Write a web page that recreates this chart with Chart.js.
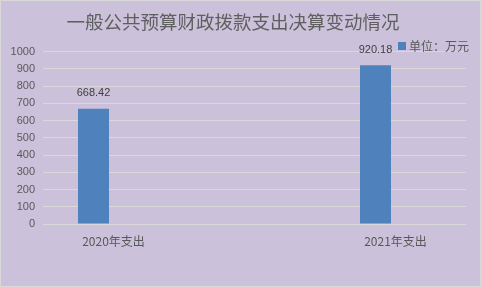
<!DOCTYPE html>
<html lang="zh">
<head>
  <meta charset="UTF-8" />
  <title>一般公共预算财政拨款支出决算变动情况</title>
  <script src="https://cdn.jsdelivr.net/npm/chart.js"></script>
  <style>
    html, body {
      margin: 0;
      padding: 0;
      background: #CBC1DA;
    }
    canvas {
      display: block;
    }
  </style>
</head>
<body>
  <canvas id="grafico" width="481" height="287"></canvas>

  <script>
    const titulo = "一般公共预算财政拨款支出决算变动情况";
    const categorias = ["2020年支出", "", "2021年支出"];
    const valores = [668.42, null, 920.18];
    const serie = "单位：万元";
    const yTicks = [0, 100, 200, 300, 400, 500, 600, 700, 800, 900, 1000];

    const azul = "#4F81BD";
    const gris = "#595959";
    const fuenteCJK = "'Noto Sans CJK SC', 'Liberation Sans', sans-serif";

    // fondo y borde exterior
    const fondo = {
      id: "fondo",
      beforeDraw(chart) {
        const c = chart.ctx;
        c.save();
        c.fillStyle = "#CBC1DA";
        c.fillRect(0, 0, chart.width, chart.height);
        c.strokeStyle = "#D9D9D9";
        c.lineWidth = 1;
        c.strokeRect(0.5, 0.5, chart.width - 1, chart.height - 1);
        c.restore();
      }
    };

    // etiquetas de valor encima de las barras
    const etiquetas = {
      id: "etiquetas",
      afterDatasetsDraw(chart) {
        const c = chart.ctx;
        const meta = chart.getDatasetMeta(0);
        c.save();
        c.font = "11px 'Liberation Sans', sans-serif";
        c.fillStyle = "#404040";
        c.textAlign = "center";
        c.textBaseline = "bottom";
        meta.data.forEach((el, i) => {
          const v = chart.data.datasets[0].data[i];
          if (v == null) return;
          c.fillText(v.toFixed(2), el.x, el.y - 10);
        });
        c.restore();
      }
    };

    // leyenda arriba a la derecha
    const leyenda = {
      id: "leyenda",
      afterDraw(chart) {
        const c = chart.ctx;
        const ds = chart.data.datasets[0];
        c.save();
        c.font = "12px " + fuenteCJK;
        const w = c.measureText(ds.label).width;
        const xText = chart.chartArea.right + 3 - w;
        const yMid = 46;
        c.fillStyle = ds.backgroundColor;
        c.fillRect(xText - 11, yMid - 4, 8, 8);
        c.fillStyle = gris;
        c.textAlign = "left";
        c.textBaseline = "middle";
        c.fillText(ds.label, xText, yMid);
        c.restore();
      }
    };

    const ctx = document.getElementById("grafico").getContext("2d");
    new Chart(ctx, {
      type: "bar",
      data: {
        labels: categorias,
        datasets: [
          {
            label: serie,
            data: valores,
            backgroundColor: azul,
            categoryPercentage: 0.567,
            barPercentage: 0.775
          },
          {
            label: "",
            data: [null, null, null],
            backgroundColor: "transparent",
            categoryPercentage: 0.567,
            barPercentage: 0.775
          }
        ]
      },
      options: {
        responsive: false,
        animation: false,
        layout: { padding: { left: 0, right: 15, top: 0, bottom: 0 } },
        plugins: {
          legend: { display: false },
          tooltip: { enabled: false },
          title: {
            display: true,
            text: titulo,
            color: "#5F5F5F",
            font: { family: fuenteCJK, size: 18.5, weight: "normal" },
            padding: { top: 11, bottom: 18.3 }
          }
        },
        scales: {
          x: {
            grid: { display: false },
            border: { display: false },
            ticks: {
              autoSkip: false,
              maxRotation: 0,
              color: gris,
              padding: 2,
              font: { family: fuenteCJK, size: 12 }
            },
            afterFit(scale) { scale.height = 63; }
          },
          y: {
            min: 0,
            max: 1000,
            afterBuildTicks(scale) {
              scale.ticks = yTicks.map(v => ({ value: v }));
            },
            grid: { color: "#D9D9D9", drawTicks: false, lineWidth: 1 },
            border: { display: false },
            ticks: {
              color: gris,
              padding: 8,
              font: { family: "'Liberation Sans', sans-serif", size: 11 },
              callback: (v) => String(v)
            },
            afterFit(scale) { scale.width = 43; }
          }
        }
      },
      plugins: [fondo, etiquetas, leyenda]
    });
  </script>
</body>
</html>
